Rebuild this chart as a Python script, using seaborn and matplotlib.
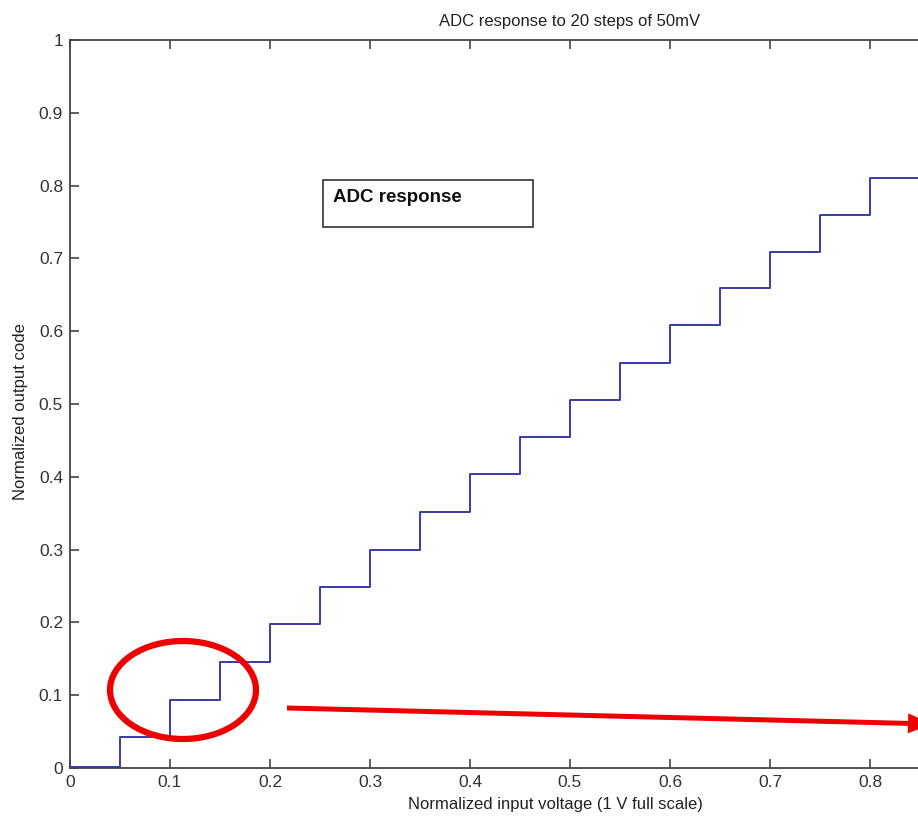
import matplotlib
matplotlib.use("Agg")
import matplotlib.pyplot as plt
import seaborn as sns
import pandas as pd
from matplotlib.patches import Ellipse, FancyArrow, Rectangle

sns.set_theme(style="white")
plt.rcParams['font.family'] = ['Liberation Sans', 'DejaVu Sans']

# Data
step_inputs = [0.00, 0.05, 0.10, 0.15, 0.20, 0.25, 0.30, 0.35, 0.40, 0.45,
               0.50, 0.55, 0.60, 0.65, 0.70, 0.75, 0.80, 0.85]
output_codes = [0.001, 0.042, 0.094, 0.145, 0.198, 0.248, 0.300, 0.352, 0.404, 0.455,
                0.505, 0.557, 0.608, 0.660, 0.709, 0.760, 0.811, 0.811]
x_ticks = [0, 0.1, 0.2, 0.3, 0.4, 0.5, 0.6, 0.7, 0.8]
y_ticks = [0, 0.1, 0.2, 0.3, 0.4, 0.5, 0.6, 0.7, 0.8, 0.9, 1]
x_tick_labels = ['0', '0.1', '0.2', '0.3', '0.4', '0.5', '0.6', '0.7', '0.8']
y_tick_labels = ['0', '0.1', '0.2', '0.3', '0.4', '0.5', '0.6', '0.7', '0.8', '0.9', '1']

df = pd.DataFrame({'vin': step_inputs, 'code': output_codes})

W, H = 918, 821
fig = plt.figure(figsize=(W / 100, H / 100), dpi=100)
ax = fig.add_axes([70 / W, (H - 768) / H, 1000 / W, 728 / H])

sns.lineplot(data=df, x='vin', y='code', ax=ax, drawstyle='steps-post',
             color='#3a3aa8', linewidth=1.4, estimator=None, sort=False,
             zorder=5, clip_on=False)

ax.set_xlim(0, 1)
ax.set_ylim(0, 1)
ax.set_xticks(x_ticks)
ax.set_xticklabels(x_tick_labels)
ax.set_yticks(y_ticks)
ax.set_yticklabels(y_tick_labels)

spine_col = '#444444'
for s in ax.spines.values():
    s.set_color(spine_col)
    s.set_linewidth(1.3)
    s.set_visible(True)
    s.set_zorder(2)

ax.tick_params(axis='both', which='both', direction='in', length=6.5, width=1.2,
               color=spine_col, labelcolor='#333333', labelsize=12.5,
               top=True, right=True, bottom=True, left=True, pad=5)

ax.set_xlabel('Normalized input voltage (1 V full scale)', fontsize=12, color='#222222')
ax.xaxis.set_label_coords((555 - 70) / 1000, -0.040)
ax.set_ylabel('Normalized output code', fontsize=12, color='#222222')
ax.yaxis.set_label_coords(-0.042, 0.49)
ax.set_title('ADC response to 20 steps of 50mV', fontsize=12, color='#222222', pad=10)

# Text box
fig.text(333 / W, 1 - 198 / H, 'ADC response', fontsize=13.5, fontweight='bold',
         color='#111111', va='center', ha='left')
fig.patches.append(Rectangle((323 / W, 1 - 227 / H), 210 / W, 47 / H,
                             transform=fig.transFigure, fill=False,
                             edgecolor='#333333', linewidth=1.2))

# Red ellipse annotation
fig.patches.append(Ellipse((183 / W, 1 - 690 / H), 146 / W, 98 / H,
                           transform=fig.transFigure, fill=False,
                           edgecolor='#ee0000', linewidth=4.5))

# Red arrow
x0, y0 = 287, 708
x1, y1 = 932, 724
fig.patches.append(FancyArrow(x0 / W, 1 - y0 / H, (x1 - x0) / W, -(y1 - y0) / H,
                              width=5 / H, head_width=20 / H, head_length=24 / W,
                              length_includes_head=True, transform=fig.transFigure,
                              color='#ee0000', linewidth=0))

fig.savefig('out.png', dpi=100)
